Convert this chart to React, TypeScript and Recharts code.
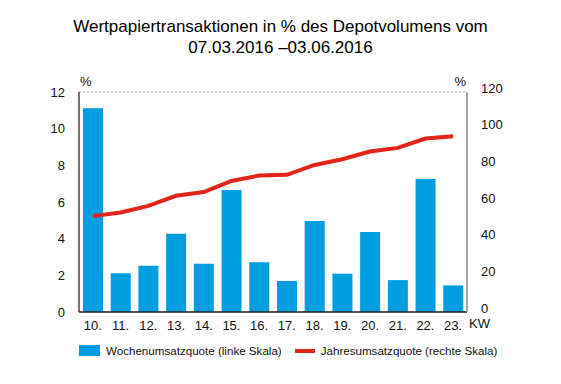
import { ComposedChart, Bar, Line, XAxis, YAxis, CartesianGrid } from "recharts";

const weeks = ["10.", "11.", "12.", "13.", "14.", "15.", "16.", "17.", "18.", "19.", "20.", "21.", "22.", "23."];
const wochenQuote = [11.11, 2.12, 2.52, 4.27, 2.63, 6.66, 2.72, 1.69, 4.96, 2.09, 4.36, 1.74, 7.26, 1.45];
const jahresQuote = [52.3, 54.3, 57.9, 63.4, 65.4, 71.5, 74.4, 74.8, 80.2, 83.3, 87.5, 89.5, 94.6, 95.9];
const leftTicks = [0, 2, 4, 6, 8, 10, 12];
const rightTicks = [0, 20, 40, 60, 80, 100, 120];

const BLUE = "#009ee0";
const RED = "#e3241b";
const FONT = "'Liberation Sans', Arial, sans-serif";

const data = weeks.map((w, i) => ({ kw: w, woche: wochenQuote[i], jahr: jahresQuote[i] }));

export default function App() {
  return (
    <div style={{ position: "absolute", left: 0, top: 0, width: 561, height: 384, background: "#fff", fontFamily: FONT }}>
      <div style={{ position: "absolute", left: 0, top: 16, width: 561, textAlign: "center", fontSize: 17, lineHeight: "21px", color: "#000" }}>
        Wertpapiertransaktionen in % des Depotvolumens vom
        <br />
        07.03.2016 –03.06.2016
      </div>
      <ComposedChart
        width={561}
        height={384}
        data={data}
        margin={{ top: 92, right: 0, bottom: 52, left: 0 }}
        barSize={20}
      >
        <CartesianGrid vertical={false} stroke="#999" strokeDasharray="2 2" />
        <XAxis
          dataKey="kw"
          tickLine={false}
          axisLine={{ stroke: "#222", strokeWidth: 1.5 }}
          height={20}
          tick={{ fill: "#111", fontSize: 13, fontFamily: FONT }}
          tickMargin={3}
          label={{
            content: (p: any) => (
              <text x={p.viewBox.x + p.viewBox.width + 2} y={p.viewBox.y + 16} fontSize={13} fontFamily={FONT} fill="#111">
                KW
              </text>
            ),
          }}
        />
        <YAxis
          yAxisId="l"
          orientation="left"
          width={79}
          domain={[0, 12]}
          ticks={leftTicks}
          tickLine={false}
          axisLine={{ stroke: "#444", strokeWidth: 1.5 }}
          tick={{ fill: "#111", fontSize: 13, fontFamily: FONT }}
          tickMargin={8}
          label={{
            content: (p: any) => (
              <text x={p.viewBox.x + p.viewBox.width + 1} y={p.viewBox.y - 6} fontSize={13} fontFamily={FONT} fill="#111">
                %
              </text>
            ),
          }}
        />
        <YAxis
          yAxisId="r"
          orientation="right"
          width={94}
          domain={[0, 120]}
          ticks={rightTicks}
          tickLine={false}
          axisLine={{ stroke: "#888", strokeWidth: 1.5 }}
          tick={{ fill: "#111", fontSize: 13, fontFamily: FONT, dy: -4 }}
          tickMargin={8}
          label={{
            content: (p: any) => (
              <text x={p.viewBox.x - 1} y={p.viewBox.y - 6} fontSize={13} fontFamily={FONT} fill="#111" textAnchor="end">
                %
              </text>
            ),
          }}
        />
        <Bar yAxisId="l" dataKey="woche" fill={BLUE} isAnimationActive={false} />
        <Line
          yAxisId="r"
          dataKey="jahr"
          stroke={RED}
          strokeWidth={4}
          dot={false}
          type="linear"
          isAnimationActive={false}
        />
      </ComposedChart>
      <div style={{ position: "absolute", top: 344, left: 79, display: "flex", alignItems: "center", fontSize: 11.6, color: "#111" }}>
        <span style={{ display: "inline-block", width: 21, height: 11, background: BLUE, marginRight: 6 }} />
        <span>Wochenumsatzquote (linke Skala)</span>
        <span style={{ display: "inline-block", width: 20, height: 4, background: RED, marginLeft: 13, marginRight: 6 }} />
        <span>Jahresumsatzquote (rechte Skala)</span>
      </div>
    </div>
  );
}
